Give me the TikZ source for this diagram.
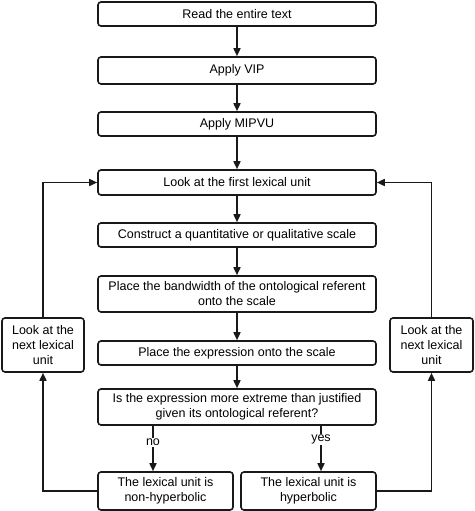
\documentclass[tikz,border=0pt]{standalone}
\usepackage{fontspec}
\setmainfont{Liberation Sans}
\usetikzlibrary{arrows.meta,calc}
\begin{document}
\begin{tikzpicture}[x=1pt,y=-1pt,
  box/.style={draw=black!90,line width=1.6pt,rounded corners=3pt,align=center,
    font=\fontsize{12.5}{15}\selectfont,inner sep=1pt,fill=white},
  mainbox/.style={box,minimum width=278pt},
  arr/.style={line width=1.6pt,draw=black!90,-{Triangle[length=8pt,width=7pt]}},
  lbl/.style={fill=white,font=\fontsize{12.5}{15}\selectfont,inner sep=1pt}]
\useasboundingbox (0,0) rectangle (474,511);
\node[mainbox,minimum height=24pt] (b1) at (237,14) {Read the entire text};
\node[mainbox,minimum height=27pt] (b2) at (237,70.5) {Apply VIP};
\node[mainbox,minimum height=24pt] (b3) at (237,124) {Apply MIPVU};
\node[mainbox,minimum height=25pt] (b4) at (237,182.5) {Look at the first lexical unit};
\node[mainbox,minimum height=24pt] (b5) at (237,235) {Construct a quantitative or qualitative scale};
\node[mainbox,minimum height=36pt] (b6) at (237,294) {Place the bandwidth of the ontological referent\\onto the scale};
\node[mainbox,minimum height=24pt] (b7) at (237,353) {Place the expression onto the scale};
\node[mainbox,minimum height=36pt] (b8) at (237,407) {Is the expression more extreme than justified\\given its ontological referent?};
\node[box,minimum width=135pt,minimum height=38pt] (b9) at (165.5,491) {The lexical unit is\\non-hyperbolic};
\node[box,minimum width=135pt,minimum height=38pt] (b10) at (308.5,491) {The lexical unit is\\hyperbolic};
\node[box,minimum width=82pt,minimum height=54pt] (L) at (43,345) {Look at the\\next lexical\\unit};
\node[box,minimum width=83pt,minimum height=54pt] (R) at (431.5,345) {Look at the\\next lexical\\unit};
\coordinate (nox) at (153,0);
\coordinate (yesx) at (321,0);
\draw[arr] (b1) -- (b2);
\draw[arr] (b2) -- (b3);
\draw[arr] (b3) -- (b4);
\draw[arr] (b4) -- (b5);
\draw[arr] (b5) -- (b6);
\draw[arr] (b6) -- (b7);
\draw[arr] (b7) -- (b8);
\draw[arr] (b8.south -| nox) -- node[lbl,pos=0.36]{no} (b9.north -| nox);
\draw[arr] (b8.south -| yesx) -- node[lbl,pos=0.3]{yes} (b10.north -| yesx);
\draw[arr] (b9.west) -| (L.south);
\draw[arr] (L.north) |- (b4.west);
\draw[arr] (b10.east) -| (R.south);
\draw[arr] (R.north) |- (b4.east);
\end{tikzpicture}
\end{document}
